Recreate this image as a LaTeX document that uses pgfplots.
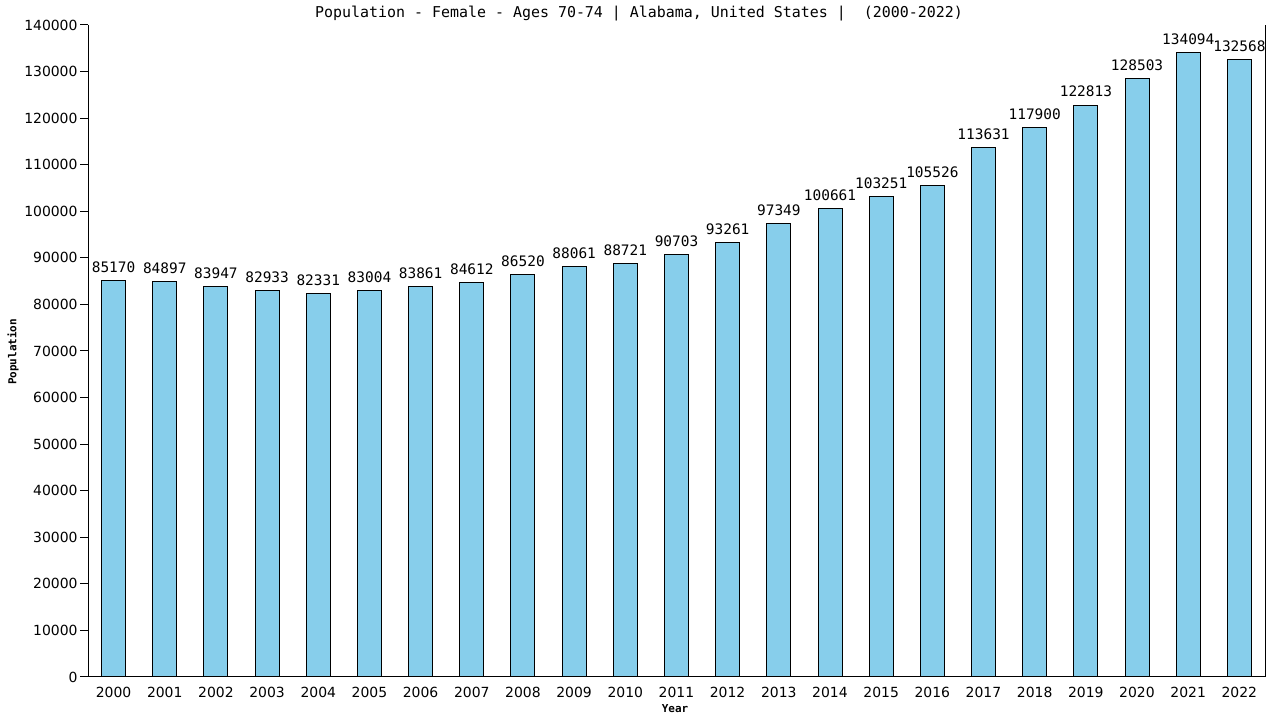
\documentclass[border=0pt]{standalone}
\usepackage{fontspec}
\setmainfont{DejaVu Sans Mono}
\newfontfamily\ticksfont{DejaVu Sans}
\usepackage{pgfplots}
\pgfplotsset{compat=1.18}
\usepackage{pgfplotstable}

\definecolor{barblue}{HTML}{87CEEB}

\pgfplotstableread{
year  pop
2000  85170
2001  84897
2002  83947
2003  82933
2004  82331
2005  83004
2006  83861
2007  84612
2008  86520
2009  88061
2010  88721
2011  90703
2012  93261
2013  97349
2014  100661
2015  103251
2016  105526
2017  113631
2018  117900
2019  122813
2020  128503
2021  134094
2022  132568
}\popdata

\begin{document}
\begin{tikzpicture}[x=1bp,y=1bp]
\path[use as bounding box] (0,0) rectangle (1280,720);
\begin{axis}[
    at={(88bp,43bp)}, anchor=south west,
    scale only axis,
    width=1177bp, height=652bp,
    separate axis lines,
    axis x line=bottom,
    axis y line=box,
    x axis line style={-},
    y axis line style={-},
    ytick pos=left,
    xmin=1999.5, xmax=2022.5,
    ymin=0, ymax=140000,
    scaled y ticks=false,
    xtick={2000,...,2022},
    xticklabels={2000,2001,2002,2003,2004,2005,2006,2007,2008,2009,2010,2011,2012,2013,2014,2015,2016,2017,2018,2019,2020,2021,2022},
    ytick={0,10000,...,140000},
    yticklabels={0,10000,20000,30000,40000,50000,60000,70000,80000,90000,100000,110000,120000,130000,140000},
    tick align=outside,
    major tick length=8bp,
    xtick style={draw=none},
    ytick style={black, line width=1bp},
    ticklabel style={font=\ticksfont\fontsize{14}{14}\selectfont},
    yticklabel style={xshift=1bp},
    xticklabel style={yshift=1bp},
    axis line style={black, line width=1bp},
    ybar,
    bar width=24bp,
    nodes near coords={\pgfplotspointmeta},
    point meta=explicit symbolic,
    every node near coord/.append style={font=\fontsize{14.5}{14.5}\selectfont, black, yshift=4bp},
]
\addplot[fill=barblue, draw=black, line width=1bp] table[x=year, y=pop, meta=pop] {\popdata};
\end{axis}
\node[font=\fontsize{15}{15}\selectfont] at (639,706) {Population - Female - Ages 70-74 | Alabama, United States |\ \ (2000-2022)};
\node[font=\bfseries\fontsize{11}{11}\selectfont, rotate=90] at (13,368) {Population};
\node[font=\bfseries\fontsize{11}{11}\selectfont] at (675,11) {Year};
\end{tikzpicture}
\end{document}
